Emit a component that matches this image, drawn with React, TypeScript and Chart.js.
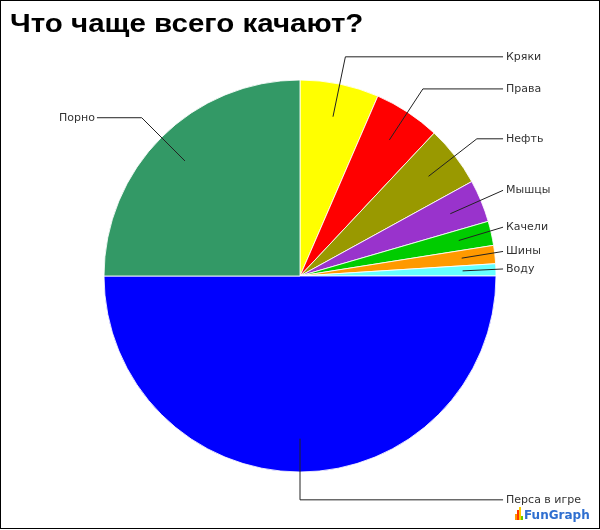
import React, { useEffect, useRef } from "react";
import { Chart, registerables } from "chart.js";

Chart.register(...registerables);

const TITLE = "Что чаще всего качают?";
const categories = ["Кряки", "Права", "Нефть", "Мышцы", "Качели", "Шины", "Воду", "Перса в игре", "Порно"];
const values = [6.5, 5.5, 5, 3.5, 2, 1.5, 1, 50, 25];
const colors = ["#FFFF00", "#FF0000", "#999900", "#9933CC", "#00CC00", "#FF9900", "#66FFFF", "#0000FF", "#339966"];
const LOGO_TEXT = "FunGraph";

const labelPlugin = {
  id: "leaderLabels",
  afterDatasetsDraw(chart: any) {
    const ctx = chart.ctx;
    const meta = chart.getDatasetMeta(0);
    ctx.save();
    ctx.font = "11px 'DejaVu Sans', Verdana, sans-serif";
    ctx.textBaseline = "middle";
    ctx.strokeStyle = "#222";
    ctx.fillStyle = "#333";
    ctx.lineWidth = 1;
    meta.data.forEach((arc: any, i: number) => {
      const { x, y, startAngle, endAngle, outerRadius } = arc.getProps(["x", "y", "startAngle", "endAngle", "outerRadius"], true);
      const mid = (startAngle + endAngle) / 2;
      const cos = Math.cos(mid);
      const sin = Math.sin(mid);
      const sx = x + cos * outerRadius * 0.83;
      const sy = y + sin * outerRadius * 0.83;
      let ex = x + cos * outerRadius * 1.142;
      const ey = y + sin * outerRadius * 1.142;
      const right = cos >= -1e-6;
      const lineEnd = right ? x + outerRadius * 1.036 : x - outerRadius * 1.036;
      if (right) ex = Math.min(ex, lineEnd);
      else ex = Math.max(ex, lineEnd);
      ctx.beginPath();
      ctx.moveTo(sx, sy);
      ctx.lineTo(ex, ey);
      ctx.lineTo(lineEnd, ey);
      ctx.stroke();
      ctx.textAlign = right ? "left" : "right";
      ctx.fillText(categories[i], right ? lineEnd + 3 : lineEnd - 2, ey);
    });
    ctx.restore();
  },
  afterDraw(chart: any) {
    const ctx = chart.ctx;
    ctx.save();
    // title (slightly wide lettering as in the reference)
    ctx.save();
    ctx.translate(10, 32);
    ctx.scale(1.135, 1);
    ctx.fillStyle = "#000";
    ctx.font = "bold 26px 'Liberation Sans', Arial, sans-serif";
    ctx.textAlign = "left";
    ctx.textBaseline = "alphabetic";
    ctx.fillText(TITLE, 0, 0);
    ctx.restore();
    // logo
    const bx = 515;
    const by = 520;
    const bars = [
      { c: "#FF9900", h: 6 },
      { c: "#FF3300", h: 10 },
      { c: "#FFCC00", h: 13 },
      { c: "#66CC00", h: 4 },
    ];
    bars.forEach((b, k) => {
      ctx.fillStyle = b.c;
      ctx.fillRect(bx + k * 2, by - b.h, 2, b.h);
    });
    ctx.fillStyle = "#2F6FD0";
    ctx.font = "bold 12px 'DejaVu Sans', sans-serif";
    ctx.textBaseline = "alphabetic";
    ctx.fillText(LOGO_TEXT, 524, 519);
    // border
    ctx.strokeStyle = "#000";
    ctx.lineWidth = 1;
    ctx.strokeRect(0.5, 0.5, 599, 528);
    ctx.restore();
  },
};

export default function App() {
  const ref = useRef<HTMLCanvasElement>(null);
  useEffect(() => {
    document.body.style.margin = "0";
    const chart = new Chart(ref.current!, {
      type: "pie",
      data: {
        labels: categories,
        datasets: [
          {
            data: values,
            backgroundColor: colors,
            borderColor: "rgba(255,255,255,0.85)",
            borderWidth: 1,
            radius: 196,
          },
        ],
      },
      options: {
        responsive: false,
        animation: false,
        layout: { padding: { left: 104, right: 104, top: 80, bottom: 58 } },
        plugins: {
          legend: { display: false },
          title: { display: false },
          tooltip: { enabled: false },
        },
      },
      plugins: [labelPlugin],
    });
    return () => chart.destroy();
  }, []);
  return (
    <div style={{ width: 600, height: 530, background: "#fff" }}>
      <canvas ref={ref} width={600} height={530} style={{ display: "block" }} />
    </div>
  );
}
